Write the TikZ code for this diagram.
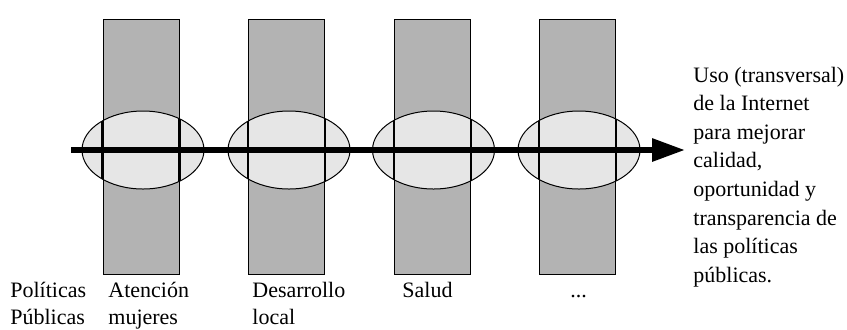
\documentclass[tikz,border=0pt]{standalone}
\usepackage{fontspec}
\setmainfont{Liberation Serif}
\usetikzlibrary{arrows.meta,shapes.geometric}
\definecolor{bargray}{HTML}{B3B3B3}
\definecolor{ovalgray}{HTML}{E6E6E6}
\tikzset{
  bar/.style={draw,line width=.5pt,fill=bargray,minimum width=38pt,
    minimum height=127.5pt,inner sep=0},
  oval/.style={ellipse,draw,line width=.5pt,fill=ovalgray,minimum width=61pt,
    minimum height=39pt,inner sep=0},
  edge/.style={line width=1.2pt},
  flow/.style={line width=3pt,-{Triangle[length=16.5pt,width=11pt]}},
  lbl/.style={anchor=base west,align=left,inner sep=0,
    font=\fontsize{11pt}{13.6pt}\selectfont},
}
\begin{document}
\begin{tikzpicture}[x=.5pt,y=-.5pt]
\useasboundingbox (0,0) rectangle (847,329);

\node (b1) [bar] at (141,146.5) {};
\node (b2) [bar] at (286.5,146.5) {};
\node (b3) [bar] at (432.5,146.5) {};
\node (b4) [bar] at (577.5,146.5) {};

\node (o1) [oval] at (143,150) {};
\node (o2) [oval] at (289,150) {};
\node (o3) [oval] at (433.5,150) {};
\node (o4) [oval] at (579,150) {};

\begin{scope}
\clip (o1.center) ellipse [x radius=30.5pt,y radius=19.5pt]
      (o2.center) ellipse [x radius=30.5pt,y radius=19.5pt]
      (o3.center) ellipse [x radius=30.5pt,y radius=19.5pt]
      (o4.center) ellipse [x radius=30.5pt,y radius=19.5pt];
\draw[edge] (b1.north west) -- (b1.south west) (b1.north east) -- (b1.south east)
            (b2.north west) -- (b2.south west) (b2.north east) -- (b2.south east)
            (b3.north west) -- (b3.south west) (b3.north east) -- (b3.south east)
            (b4.north west) -- (b4.south west) (b4.north east) -- (b4.south east);
\end{scope}

\coordinate (from) at (71,150);
\coordinate (tip) at (685,150);
\draw[flow] (from) -- (tip);

\node (uso) [lbl,font=\fontsize{11pt}{14.3pt}\selectfont] at (693,282.2)
    {Uso (transversal)\\de la Internet\\para mejorar\\calidad,\\oportunidad y\\transparencia de\\las políticas\\públicas.};

\node (pp) [lbl] at (10,324.2) {Políticas\\Públicas};
\node (am) [lbl] at (108,324.2) {Atención\\mujeres};
\node (dl) [lbl] at (252,324.2) {Desarrollo\\local};
\node (sa) [lbl] at (402,297) {Salud};
\node (etc) [lbl] at (570,297) {...};
\end{tikzpicture}
\end{document}
